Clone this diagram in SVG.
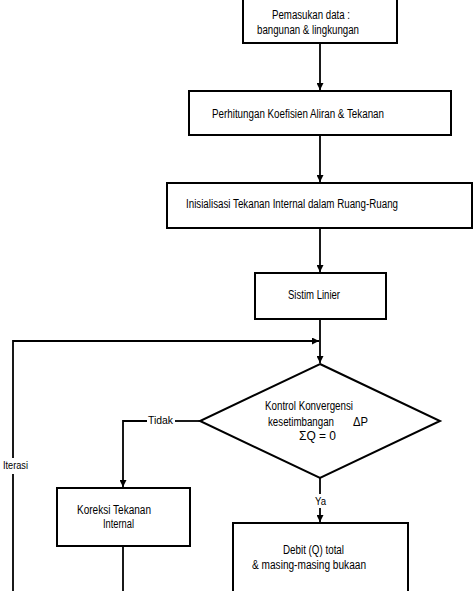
<svg xmlns="http://www.w3.org/2000/svg" width="474" height="591" viewBox="0 0 474 591">
<style>
.box{fill:#fff;stroke:#000;stroke-width:2}
.ln{fill:none;stroke:#000;stroke-width:1.8}
text{font-family:"Liberation Sans Narrow","Liberation Sans",Arial,sans-serif;font-size:12px;fill:#000}
.sm{font-size:10px}
</style>
<defs>
<marker id="ah" viewBox="0 0 10 10" refX="10" refY="5" markerWidth="7" markerHeight="7" markerUnits="userSpaceOnUse" orient="auto">
<path d="M0,0 L10,5 L0,10 z" fill="#000"/>
</marker>
</defs>
<rect width="474" height="591" fill="#fff"/>
<g id="connectors">
<path class="ln" d="M320,43 V90" marker-end="url(#ah)"/>
<path class="ln" d="M320,135 V182" marker-end="url(#ah)"/>
<path class="ln" d="M320,228 V272" marker-end="url(#ah)"/>
<path class="ln" d="M320,319 V363" marker-end="url(#ah)"/>
<path class="ln" d="M13,458 V341 H319" marker-end="url(#ah)"/>
<path class="ln" d="M13,474 V591"/>
<path class="ln" d="M200,421 H175"/>
<path class="ln" d="M147,421 H123 V487" marker-end="url(#ah)"/>
<path class="ln" d="M320,478 V494"/>
<path class="ln" d="M320,508 V522" marker-end="url(#ah)"/>
<path class="ln" d="M123,546 V591"/>
<text class="sm" x="148" y="424" textLength="25" lengthAdjust="spacingAndGlyphs">Tidak</text>
<text class="sm" x="3" y="469" textLength="25" lengthAdjust="spacingAndGlyphs">Iterasi</text>
<text class="sm" x="315" y="505" textLength="11" lengthAdjust="spacingAndGlyphs">Ya</text>
</g>
<g id="input">
<rect class="box" x="243" y="-2" width="154" height="45"/>
<text x="272" y="19" textLength="78" lengthAdjust="spacingAndGlyphs">Pemasukan data :</text>
<text x="257" y="34" textLength="102" lengthAdjust="spacingAndGlyphs">bangunan &amp; lingkungan</text>
</g>
<g id="koefisien">
<rect class="box" x="189" y="91" width="262" height="44"/>
<text x="212" y="118" textLength="172" lengthAdjust="spacingAndGlyphs">Perhitungan Koefisien Aliran &amp; Tekanan</text>
</g>
<g id="inisialisasi">
<rect class="box" x="167" y="183" width="305" height="45"/>
<text x="186" y="208" textLength="212" lengthAdjust="spacingAndGlyphs">Inisialisasi Tekanan Internal dalam Ruang-Ruang</text>
</g>
<g id="sistim">
<rect class="box" x="255" y="273" width="131" height="46"/>
<text x="288" y="299" textLength="52" lengthAdjust="spacingAndGlyphs">Sistim Linier</text>
</g>
<g id="kontrol">
<path class="box" d="M320,364 L440,421 L320,478 L200,421 Z"/>
<text x="265" y="410" textLength="88" lengthAdjust="spacingAndGlyphs">Kontrol Konvergensi</text>
<text x="268" y="426" textLength="66" lengthAdjust="spacingAndGlyphs">kesetimbangan</text>
<text x="353" y="426" textLength="15" lengthAdjust="spacingAndGlyphs">ΔP</text>
<text x="299" y="440" textLength="37" lengthAdjust="spacingAndGlyphs">ΣQ = 0</text>
</g>
<g id="koreksi">
<rect class="box" x="57" y="488" width="133" height="58"/>
<text x="77" y="514" textLength="74" lengthAdjust="spacingAndGlyphs">Koreksi Tekanan</text>
<text x="103" y="528" textLength="31" lengthAdjust="spacingAndGlyphs">Internal</text>
</g>
<g id="debit">
<rect class="box" x="233" y="523" width="175" height="80"/>
<text x="283" y="554" textLength="61" lengthAdjust="spacingAndGlyphs">Debit (Q) total</text>
<text x="252" y="569" textLength="114" lengthAdjust="spacingAndGlyphs">&amp; masing-masing bukaan</text>
</g>
</svg>
